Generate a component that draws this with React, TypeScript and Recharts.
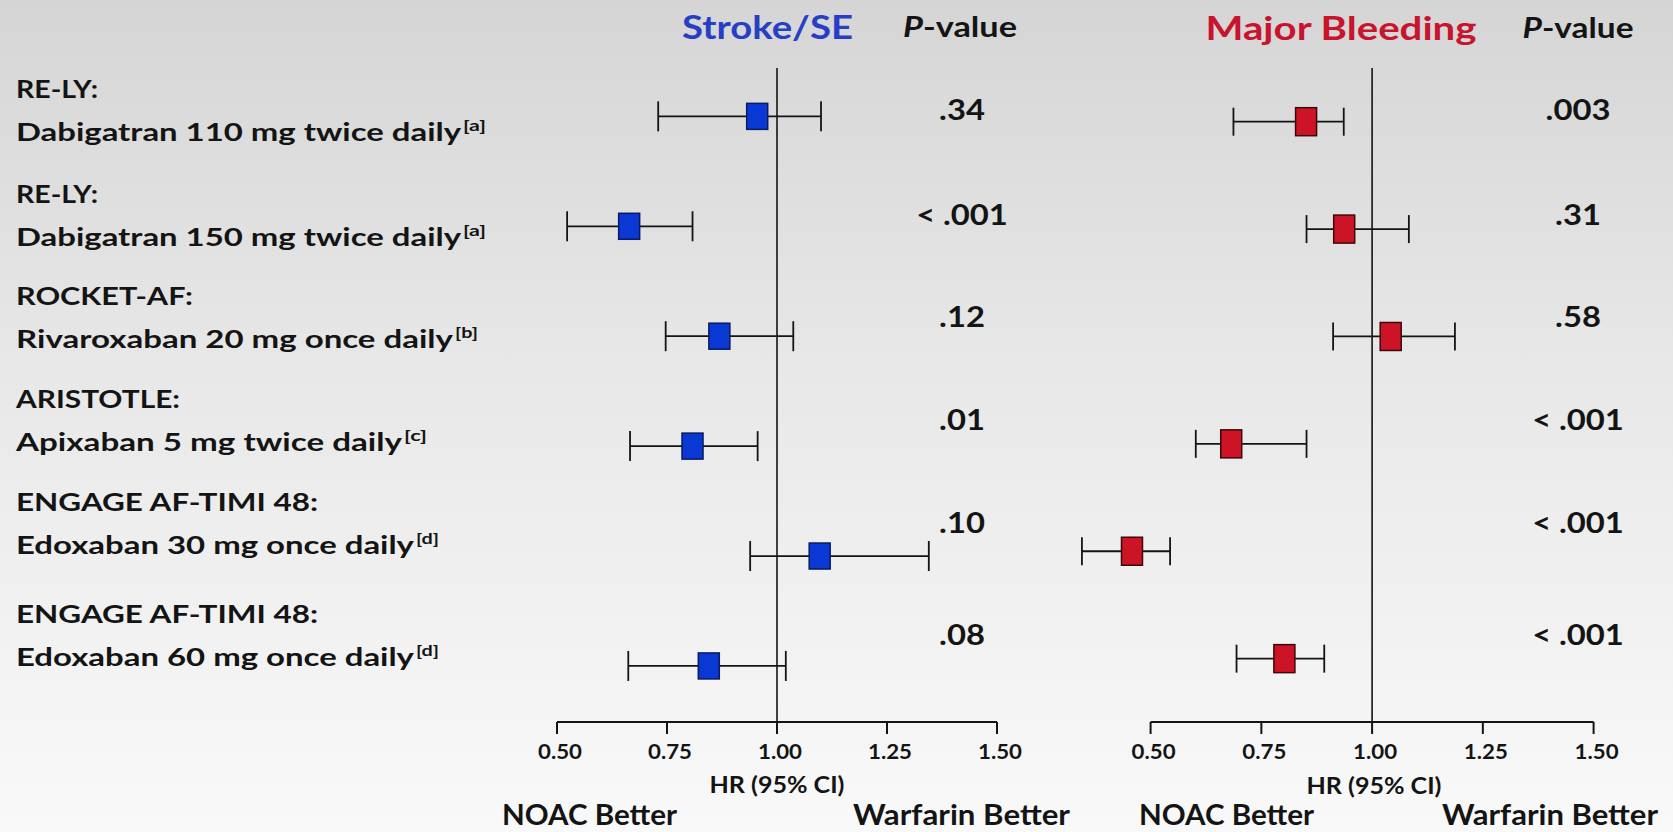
import React from 'react';
import { ScatterChart, Scatter, XAxis, YAxis, ErrorBar, ReferenceLine } from 'recharts';

// trial rows, top to bottom
const trials = ['RE-LY:', 'RE-LY:', 'ROCKET-AF:', 'ARISTOTLE:', 'ENGAGE AF-TIMI 48:', 'ENGAGE AF-TIMI 48:'];
const regimens = [
  'Dabigatran 110 mg twice daily',
  'Dabigatran 150 mg twice daily',
  'Rivaroxaban 20 mg once daily',
  'Apixaban 5 mg twice daily',
  'Edoxaban 30 mg once daily',
  'Edoxaban 60 mg once daily',
];
const refs = ['a', 'a', 'b', 'c', 'd', 'd'];

// Stroke/SE hazard ratios (95% CI)
const strokeHR = [0.955, 0.664, 0.869, 0.808, 1.097, 0.845];
const strokeLo = [0.73, 0.523, 0.747, 0.666, 0.939, 0.662];
const strokeHi = [1.1, 0.808, 1.037, 0.956, 1.345, 1.02];
const strokeP = ['.34', '< .001', '.12', '.01', '.10', '.08'];

// Major bleeding hazard ratios (95% CI)
const bleedHR = [0.851, 0.937, 1.042, 0.682, 0.458, 0.802];
const bleedLo = [0.687, 0.852, 0.912, 0.602, 0.345, 0.694];
const bleedHi = [0.936, 1.083, 1.187, 0.852, 0.544, 0.892];
const bleedP = ['.003', '.31', '.58', '< .001', '< .001', '< .001'];

const hrTicks = [0.5, 0.75, 1, 1.25, 1.5];

const FONT = 'Lato, "Open Sans", sans-serif';
const INK = '#141414';

// text layout (baselines / widths of the slide text, which is stretched)
const rowBase = [98, 203, 305, 408, 511, 623];
const trialW = [82, 82, 177, 164, 302, 302];
const regimenW = [445, 445, 437, 386, 398, 398];

const toRows = (hr: number[], lo: number[], hi: number[]) =>
  hr.map((v, i) => ({ row: i, hr: v, err: [v - lo[i], hi[i] - v] }));

const strokeRows = toRows(strokeHR, strokeLo, strokeHi);
const bleedRows = toRows(bleedHR, bleedLo, bleedHi);

function TickLabel(props: any) {
  const { x, y, payload } = props;
  return (
    <text
      x={x + 3}
      y={y}
      dy={15}
      textAnchor="middle"
      fontFamily={FONT}
      fontWeight={700}
      fontSize={21}
      fill={INK}
      textLength={44}
      lengthAdjust="spacingAndGlyphs"
    >
      {Number(payload.value).toFixed(2)}
    </text>
  );
}

const makeBox = (fill: string, stroke: string, w: number, h: number) => (props: any) => (
  <rect x={props.cx - w / 2} y={props.cy - h / 2} width={w} height={h} fill={fill} stroke={stroke} strokeWidth={1.5} />
);

interface PanelProps {
  data: any[];
  domain: [number, number];
  rowDomain: [number, number];
  left: number;
  width: number;
  fill: string;
  stroke: string;
  cap: number;
  boxH: number;
}

function Panel({ data, domain, rowDomain, left, width, fill, stroke, cap, boxH }: PanelProps) {
  return (
    <div style={{ position: 'absolute', left, top: 48 }}>
      <ScatterChart width={width} height={718} margin={{ top: 20, right: 30, bottom: 4, left: 30 }}>
        <XAxis
          type="number"
          dataKey="hr"
          domain={domain}
          allowDataOverflow
          ticks={hrTicks}
          interval={0}
          axisLine={false}
          tickLine={{ stroke: INK, strokeWidth: 2 }}
          tickSize={12}
          tickMargin={10}
          tick={<TickLabel />}
          height={40}
        />
        <YAxis type="number" dataKey="row" domain={rowDomain} allowDataOverflow reversed hide />
        <ReferenceLine x={1} stroke={INK} strokeWidth={1.6} />
        <ReferenceLine
          segment={[
            { x: 0.5, y: rowDomain[1] },
            { x: 1.5, y: rowDomain[1] },
          ]}
          stroke={INK}
          strokeWidth={2}
          ifOverflow="visible"
        />
        <Scatter data={data} shape={makeBox(fill, stroke, 21, boxH)} isAnimationActive={false}>
          <ErrorBar dataKey="err" direction="x" width={cap} stroke={INK} strokeWidth={1.8} isAnimationActive={false} />
        </Scatter>
      </ScatterChart>
    </div>
  );
}

interface TxtProps {
  x: number;
  y: number;
  size: number;
  w?: number;
  sx?: number;
  anchor?: 'start' | 'middle' | 'end';
  fill?: string;
  children: React.ReactNode;
}

function Txt({ x, y, size, w, sx, anchor = 'start', fill = INK, children }: TxtProps) {
  const common = { fontFamily: FONT, fontWeight: 700, fontSize: size, fill, textAnchor: anchor };
  if (sx) {
    return (
      <text transform={`translate(${x},${y}) scale(${sx},1)`} {...common}>
        {children}
      </text>
    );
  }
  return (
    <text x={x} y={y} textLength={w} lengthAdjust="spacingAndGlyphs" {...common}>
      {children}
    </text>
  );
}

export default function App() {
  return (
    <div
      style={{
        position: 'absolute',
        left: 0,
        top: 0,
        width: 1673,
        height: 832,
        overflow: 'hidden',
        background: 'linear-gradient(to bottom, #d5d5d5 0%, #e8e8e8 45%, #f9f9f9 100%)',
      }}
    >
      <Panel
        data={strokeRows}
        domain={[0.5, 1.5]}
        rowDomain={[-0.44, 5.51]}
        left={527}
        width={500}
        fill="#0a38d4"
        stroke="#0b1a5e"
        cap={15}
        boxH={26}
      />
      <Panel
        data={bleedRows}
        domain={[0.3, 1.5]}
        rowDomain={[-0.5, 5.59]}
        left={1032.4}
        width={591.6}
        fill="#cc1426"
        stroke="#3a0808"
        cap={14}
        boxH={28}
      />
      <svg width={1673} height={832} style={{ position: 'absolute', left: 0, top: 0, pointerEvents: 'none' }}>
        {/* column headers */}
        <Txt x={767.5} y={38.5} size={32} w={171} anchor="middle" fill="#263fc4">
          Stroke/SE
        </Txt>
        <Txt x={960} y={37} size={28} w={114} anchor="middle">
          <tspan fontStyle="italic">P</tspan>-value
        </Txt>
        <Txt x={1341} y={40} size={32} w={271} anchor="middle" fill="#c8142c">
          Major Bleeding
        </Txt>
        <Txt x={1578} y={38} size={28} w={111} anchor="middle">
          <tspan fontStyle="italic">P</tspan>-value
        </Txt>

        {/* row labels */}
        {trials.map((t, i) => (
          <g key={i}>
            <Txt x={16} y={rowBase[i]} size={25} w={trialW[i]}>
              {t}
            </Txt>
            <Txt x={16} y={rowBase[i] + 43} size={25} w={regimenW[i]}>
              {regimens[i]}
            </Txt>
            <Txt x={16 + regimenW[i] + 2} y={rowBase[i] + 33} size={16} w={23}>
              {`[${refs[i]}]`}
            </Txt>
          </g>
        ))}

        {/* P-values */}
        {strokeP.map((p, i) => (
          <Txt key={'s' + i} x={962} y={rowBase[i] + 22} size={28} sx={1.17} anchor="middle">
            {p}
          </Txt>
        ))}
        {bleedP.map((p, i) => (
          <Txt key={'b' + i} x={1578} y={rowBase[i] + 22} size={28} sx={1.17} anchor="middle">
            {p}
          </Txt>
        ))}

        {/* axis titles */}
        <Txt x={777} y={793} size={22} w={135} anchor="middle">
          HR (95% CI)
        </Txt>
        <Txt x={1374} y={794} size={22} w={135} anchor="middle">
          HR (95% CI)
        </Txt>
        <Txt x={502} y={825} size={28} w={175}>
          NOAC Better
        </Txt>
        <Txt x={853} y={825} size={28} w={217}>
          Warfarin Better
        </Txt>
        <Txt x={1139} y={825} size={28} w={175}>
          NOAC Better
        </Txt>
        <Txt x={1442} y={825} size={28} w={216}>
          Warfarin Better
        </Txt>
      </svg>
    </div>
  );
}
